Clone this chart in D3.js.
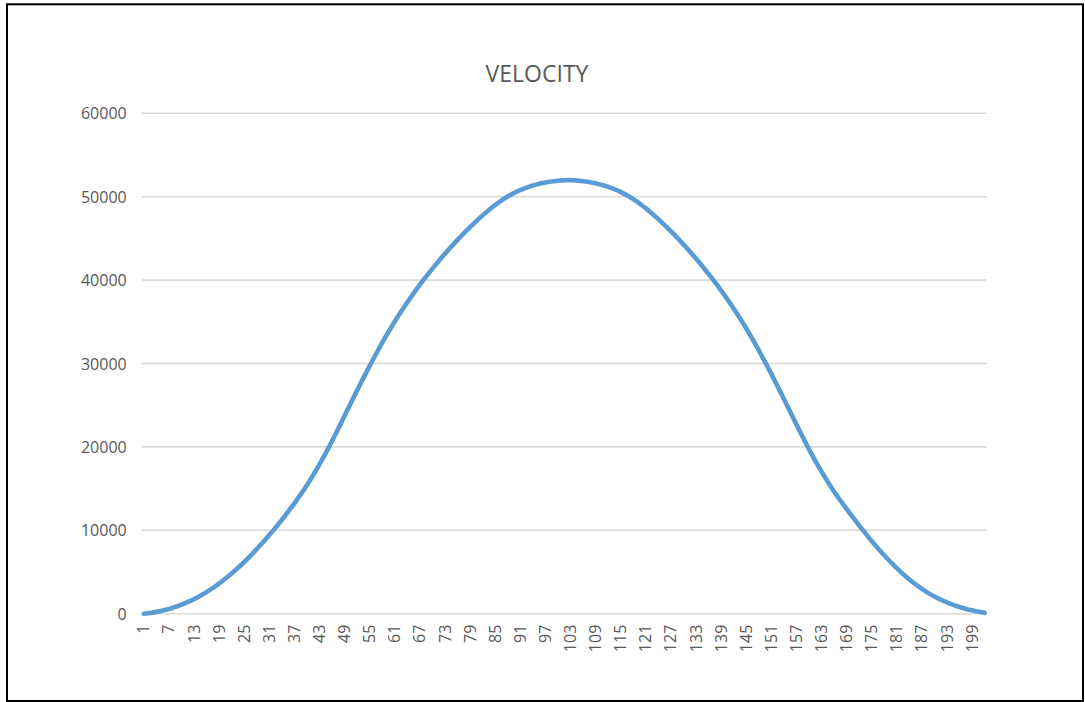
<!DOCTYPE html>
<html>
<head>
<meta charset="utf-8">
<style>
body{
    margin: 0;
    background: #fff;
}
text{
    font-family: "Open Sans", sans-serif;
    fill: #595959;
}
</style>
</head>
<body>
<svg id="velocity"></svg>

<script src="https://cdn.jsdelivr.net/npm/d3@7"></script>
<script>
// velocity values, one per step (steps 1..202)
var velocity = [
    0, 60, 130, 220, 320, 440, 570, 720, 890, 1080,
    1290, 1500, 1750, 2000, 2290, 2590, 2910, 3250, 3620, 4000,
    4410, 4830, 5270, 5720, 6200, 6690, 7210, 7740, 8290, 8850,
    9430, 10020, 10630, 11250, 11890, 12560, 13240, 13940, 14660, 15420,
    16220, 17050, 17910, 18800, 19730, 20700, 21690, 22700, 23730, 24750,
    25770, 26780, 27780, 28760, 29720, 30660, 31590, 32490, 33370, 34220,
    35040, 35840, 36600, 37340, 38060, 38760, 39450, 40110, 40750, 41370,
    41980, 42580, 43160, 43730, 44280, 44820, 45350, 45860, 46360, 46840,
    47310, 47760, 48200, 48610, 49000, 49370, 49710, 50030, 50310, 50570,
    50800, 51000, 51180, 51340, 51480, 51610, 51710, 51800, 51860, 51920,
    51960, 51980, 52000, 51960, 51920, 51860, 51800, 51710, 51610, 51480,
    51340, 51180, 51000, 50800, 50570, 50310, 50030, 49710, 49370, 49000,
    48610, 48200, 47760, 47310, 46840, 46360, 45860, 45350, 44820, 44280,
    43730, 43160, 42580, 41980, 41370, 40750, 40110, 39450, 38760, 38060,
    37340, 36600, 35840, 35040, 34220, 33370, 32490, 31590, 30660, 29720,
    28760, 27780, 26780, 25770, 24750, 23730, 22700, 21690, 20700, 19730,
    18800, 17910, 17050, 16220, 15420, 14660, 13940, 13240, 12560, 11890,
    11250, 10600, 9960, 9330, 8720, 8130, 7560, 7010, 6470, 5960,
    5460, 4990, 4530, 4110, 3710, 3330, 2980, 2650, 2350, 2060,
    1800, 1580, 1350, 1160, 970, 800, 650, 510, 400, 290,
    200, 100
];
var steps = d3.range(1, velocity.length + 1);
var stepLabels = [1, 7, 13, 19, 25, 31, 37, 43, 49, 55, 61, 67, 73, 79, 85, 91, 97,
    103, 109, 115, 121, 127, 133, 139, 145, 151, 157, 163, 169, 175, 181, 187, 193, 199];
var yTicks = [0, 10000, 20000, 30000, 40000, 50000, 60000];

var width = 1085;
var height = 702;
var margin = {
    top: 113.3,
    bottom: 88.3,
    left: 141.7,
    right: 98.3
};

var svg = d3.select('#velocity')
    .attr('width', width)
    .attr('height', height);

// chart frame
svg.append('rect')
    .attr('x', 7)
    .attr('y', 4.3)
    .attr('width', 1076)
    .attr('height', 696.7)
    .attr('fill', 'none')
    .attr('stroke', '#000')
    .attr('stroke-width', 2);

var x = d3.scaleBand()
    .domain(steps)
    .range([margin.left, width - margin.right])
    .padding(0);
var y = d3.scaleLinear()
    .domain([0, 60000])
    .range([height - margin.bottom, margin.top]);

// title
svg.append('text')
    .attr('x', 537)
    .attr('y', 81.5)
    .attr('text-anchor', 'middle')
    .style('font-size', '23px')
    .text('VELOCITY');

// gridlines
svg.append('g').selectAll('line').data(yTicks)
    .enter().append('line')
    .attr('x1', margin.left)
    .attr('x2', width - margin.right)
    .attr('y1', function (d) { return y(d); })
    .attr('y2', function (d) { return y(d); })
    .attr('stroke', '#d9d9d9')
    .attr('stroke-width', 1.6);

// y axis
var yAxis = svg.append('g')
    .attr('transform', 'translate(' + (margin.left - 15) + ',0)')
    .call(d3.axisLeft(y).tickValues(yTicks).tickSize(0).tickPadding(0).tickFormat(d3.format('d')));
yAxis.select('.domain').remove();
yAxis.selectAll('text')
    .style('font-size', '16px')
    .attr('dy', '0.35em')
    .attr('fill', '#595959');

// x axis, labels every 6 steps, rotated
var xAxis = svg.append('g')
    .attr('transform', 'translate(0,' + (height - margin.bottom) + ')')
    .call(d3.axisBottom(x).tickValues(stepLabels).tickSize(0));
xAxis.select('.domain').remove();
xAxis.selectAll('text')
    .style('font-size', '16px')
    .attr('fill', '#595959')
    .attr('text-anchor', 'end')
    .attr('transform', 'translate(0,11) rotate(-90)')
    .attr('x', 0)
    .attr('y', 0)
    .attr('dy', '0.35em');

// the line
var line = d3.line()
    .x(function (d, i) { return x(steps[i]) + x.bandwidth() / 2; })
    .y(function (d) { return y(d); });

svg.append('path')
    .datum(velocity)
    .attr('d', line)
    .attr('fill', 'none')
    .attr('stroke', '#5b9bd5')
    .attr('stroke-width', 4.6)
    .attr('stroke-linecap', 'round')
    .attr('stroke-linejoin', 'round');
</script>
</body>
</html>
